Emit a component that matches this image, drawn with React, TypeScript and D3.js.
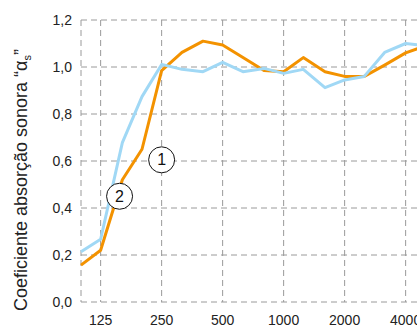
import React from "react";
import * as d3 from "d3";

const freqs = [100, 125, 160, 200, 250, 315, 400, 500, 630, 800, 1000, 1250, 1600, 2000, 2500, 3150, 4000, 5000];
const series1 = [0.157, 0.22, 0.52, 0.65, 0.985, 1.062, 1.11, 1.094, 1.04, 0.985, 0.98, 1.04, 0.98, 0.96, 0.96, 1.008, 1.06, 1.09];
const series2 = [0.214, 0.267, 0.678, 0.874, 1.011, 0.99, 0.98, 1.02, 0.98, 0.994, 0.973, 0.99, 0.912, 0.945, 0.96, 1.062, 1.1, 1.09];
const xTicks = [125, 250, 500, 1000, 2000, 4000];
const xGrid = [100, 125, 250, 500, 1000, 2000, 4000];
const yTicks = [0, 0.2, 0.4, 0.6, 0.8, 1.0, 1.2];
const labels = [
  { text: "1", f: 250, v: 0.605 },
  { text: "2", f: 155, v: 0.45 },
];

const W = 417;
const H = 327;

export default function App() {
  const x = d3.scaleLog().base(2).domain([100, 5000]).range([81, 81 + 61 * Math.log2(50)]);
  const y = d3.scaleLinear().domain([0, 1.2]).range([302, 20]);
  const line = d3
    .line<number>()
    .x((_, i) => x(freqs[i]))
    .y((d) => y(d));
  const font = "'Liberation Sans', Arial, sans-serif";
  const fmt = (v: number) => v.toFixed(1).replace(".", ",");
  const grid = "#9a9a9a";
  return (
    <svg
      width={W}
      height={H}
      style={{ position: "absolute", left: 0, top: 0, background: "#fff" }}
      fontFamily={font}
    >
      <rect width={W} height={H} fill="#fff" />
      {yTicks.map((t) => (
        <line key={"h" + t} x1={81} x2={W + 20} y1={y(t)} y2={y(t)} stroke={grid} strokeWidth={1} strokeDasharray="6,4" />
      ))}
      {xGrid.map((f) => (
        <line key={"v" + f} x1={x(f)} x2={x(f)} y1={y(1.2)} y2={y(0)} stroke={grid} strokeWidth={1} strokeDasharray="6,4" />
      ))}
      {yTicks.map((t) => (
        <text key={"yl" + t} x={72} y={y(t) + 5} textAnchor="end" fontSize={14} fill="#222">
          {fmt(t)}
        </text>
      ))}
      {xTicks.map((f) => (
        <text key={"xl" + f} x={x(f)} y={325} textAnchor="middle" fontSize={14} fill="#222">
          {f}
        </text>
      ))}
      <path d={line(series1) || ""} fill="none" stroke="#f39200" strokeWidth={3} strokeLinejoin="round" />
      <path d={line(series2) || ""} fill="none" stroke="#a0d8f5" strokeWidth={3} strokeLinejoin="round" />
      {labels.map((l) => (
        <g key={l.text} transform={`translate(${x(l.f)},${y(l.v)})`}>
          <circle r={13} fill="#fff" stroke="#111" strokeWidth={1} />
          <text y={5.5} textAnchor="middle" fontSize={16} fill="#111">
            {l.text}
          </text>
        </g>
      ))}
      <text transform="translate(27,180) rotate(-90)" textAnchor="middle" fontSize={18} fill="#222">
        Coeficiente absorção sonora “α
        <tspan fontSize={11} dy={4}>s</tspan>
        <tspan dy={-4}>”</tspan>
      </text>
    </svg>
  );
}
